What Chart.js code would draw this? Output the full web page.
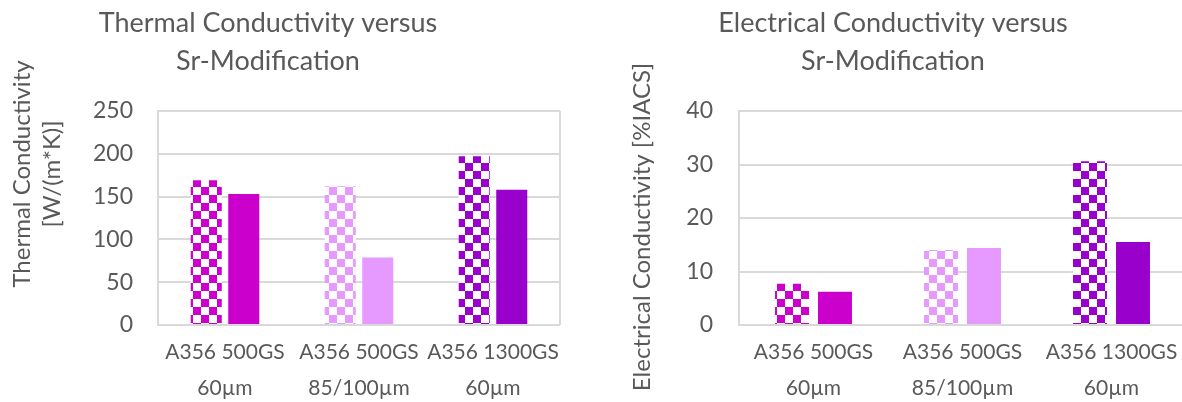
<!DOCTYPE html>
<html>
<head>
<meta charset="utf-8">
<script src="https://cdn.jsdelivr.net/npm/chart.js@4.4.1/dist/chart.umd.min.js"></script>
<style>
  html, body { margin: 0; padding: 0; width: 1182px; height: 402px; overflow: hidden; background: #fff; }
  #thermalBox { position: absolute; left: 0; top: 0; width: 590px; height: 402px; }
  #electricalBox { position: absolute; left: 590px; top: 0; width: 600px; height: 402px; }
  canvas { display: block; }
</style>
</head>
<body>
<div id="thermalBox"><canvas id="thermal" width="590" height="402"></canvas></div>
<div id="electricalBox"><canvas id="electrical" width="600" height="402"></canvas></div>
<script>
// Alloy / grain-size groups (two-line axis labels)
const categories = [
  ['A356 500GS', '60µm'],
  ['A356 500GS', '85/100µm'],
  ['A356 1300GS', '60µm']
];
const categoryColors = ['#CC00CC', '#E699FF', '#9900CC'];

// Thermal conductivity, W/(m*K)
const thermalUnmodified = [169, 162, 197];
const thermalModified = [153, 79, 158];
const thermalTicks = [0, 50, 100, 150, 200, 250];

// Electrical conductivity, %IACS
const electricalUnmodified = [7.7, 14.0, 30.6];
const electricalModified = [6.2, 14.4, 15.5];
const electricalTicks = [0, 10, 20, 30, 40];

const TEXT = '#595959';
const GRID = '#D9D9D9';

// Checkerboard fill: 8px squares of the group colour on white
function checker(ctx, color, dx, dy) {
  const tile = document.createElement('canvas');
  tile.width = 16; tile.height = 16;
  const t = tile.getContext('2d');
  t.fillStyle = '#FFFFFF';
  t.fillRect(0, 0, 16, 16);
  t.fillStyle = color;
  t.fillRect(0, 0, 8, 8);
  t.fillRect(8, 8, 8, 8);
  const p = ctx.createPattern(tile, 'repeat');
  p.setTransform(new DOMMatrix().translate(dx, dy));
  return p;
}

// Free-standing text lines (headings and axis titles)
const captions = {
  id: 'captions',
  afterDraw(chart, args, opts) {
    const ctx = chart.ctx;
    for (const it of opts.items || []) {
      ctx.save();
      ctx.translate(it.x, it.y);
      if (it.rotate) ctx.rotate(it.rotate);
      ctx.font = it.font;
      ctx.fillStyle = TEXT;
      ctx.textAlign = 'center';
      ctx.textBaseline = 'alphabetic';
      ctx.fillText(it.text, 0, 0);
      ctx.restore();
    }
  }
};

function buildChart(canvasId, cfg) {
  const canvas = document.getElementById(canvasId);
  const ctx = canvas.getContext('2d');
  const patterns = categoryColors.map(c => checker(ctx, c, cfg.patternShift[0], cfg.patternShift[1]));
  return new Chart(canvas, {
    type: 'bar',
    data: {
      labels: categories,
      datasets: [
        {
          label: 'Unmodified',
          data: cfg.unmodified,
          backgroundColor: patterns,
          borderWidth: 0,
          categoryPercentage: cfg.catPct,
          barPercentage: cfg.barPct
        },
        {
          label: 'Sr-modified',
          data: cfg.modified,
          backgroundColor: categoryColors,
          borderWidth: 0,
          categoryPercentage: cfg.catPct,
          barPercentage: cfg.barPct
        }
      ]
    },
    options: {
      responsive: false,
      animation: false,
      layout: { padding: { top: 111, right: cfg.padRight, bottom: 0, left: 0 } },
      plugins: {
        legend: { display: false },
        tooltip: { enabled: false },
        title: { display: false },
        captions: { items: cfg.captions }
      },
      scales: {
        x: {
          afterFit: s => { s.height = 77; },
          grid: {
            drawTicks: false,
            lineWidth: 2,
            color: c => (c.type === 'tick' ? 'rgba(0,0,0,0)' : GRID)
          },
          border: { display: false },
          ticks: {
            color: TEXT,
            padding: 10,
            maxRotation: 0,
            minRotation: 0,
            autoSkip: false,
            font: { family: 'Lato', size: 21, lineHeight: 1.68 }
          }
        },
        y: {
          min: cfg.ticks[0],
          max: cfg.ticks[cfg.ticks.length - 1],
          afterFit: s => { s.width = cfg.axisWidth; },
          afterBuildTicks: s => { s.ticks = cfg.ticks.map(v => ({ value: v })); },
          grid: { drawTicks: false, color: GRID, lineWidth: 2 },
          border: { display: true, color: GRID, width: 2 },
          ticks: {
            color: TEXT,
            padding: cfg.tickPad,
            font: { family: 'Lato', size: 23 }
          }
        }
      }
    },
    plugins: [captions]
  });
}

buildChart('thermal', {
  unmodified: thermalUnmodified,
  modified: thermalModified,
  ticks: thermalTicks,
  axisWidth: 158,
  tickPad: 25,
  padRight: 30,
  catPct: 0.56,
  barPct: 0.827,
  patternShift: [1, 3],
  captions: [
    { text: 'Thermal Conductivity versus', x: 268, y: 32, font: '400 27px Lato' },
    { text: 'Sr-Modification', x: 268, y: 70, font: '400 27px Lato' },
    { text: 'Thermal Conductivity', x: 30, y: 174, rotate: -Math.PI / 2, font: '400 24px Lato' },
    { text: '[W/(m*K)]', x: 60, y: 174, rotate: -Math.PI / 2, font: '400 24px Lato' }
  ]
});

buildChart('electrical', {
  unmodified: electricalUnmodified,
  modified: electricalModified,
  ticks: electricalTicks,
  axisWidth: 149,
  tickPad: 26,
  padRight: 4,
  catPct: 0.577,
  barPct: 0.79,
  patternShift: [3, 3],
  captions: [
    { text: 'Electrical Conductivity versus', x: 303, y: 32, font: '400 27px Lato' },
    { text: 'Sr-Modification', x: 303, y: 70, font: '400 27px Lato' },
    { text: 'Electrical Conductivity [%IACS]', x: 60, y: 227, rotate: -Math.PI / 2, font: '400 24px Lato' }
  ]
});
</script>
</body>
</html>
